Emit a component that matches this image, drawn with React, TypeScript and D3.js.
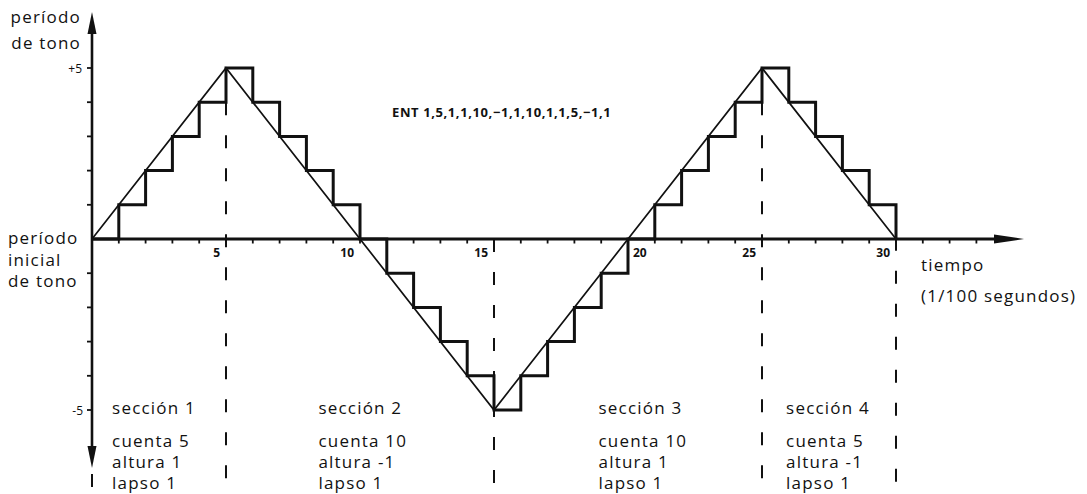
import React from "react";
import * as d3 from "d3";

// ---- data ----
const stepTimes = [0,1,2,3,4,5,6,7,8,9,10,11,12,13,14,15,16,17,18,19,20,21,22,23,24,25,26,27,28,29,30];
const stepValues = [0,1,2,3,4,5,4,3,2,1,0,-1,-2,-3,-4,-5,-4,-3,-2,-1,0,1,2,3,4,5,4,3,2,1,0];
const rampTimes = [0,5,15,25,30];
const rampValues = [0,5,-5,5,0];
const boundaryTimes = [5,15,25,30];
const boundaryStart = [4,0,4,1];
const xTickValues = [1,2,3,4,5,6,7,8,9,10,11,12,13,14,15,16,17,18,19,20,21,22,23,24,25,26,27,28,29,30,31,32,33];
const xTickLabels = [5,10,15,20,25,30];
const yTickValues = [-5,-4,-3,-2,-1,1,2,3,4,5];
const sectionNames = ["sección 1","sección 2","sección 3","sección 4"];
const sectionCounts = ["cuenta 5","cuenta 10","cuenta 10","cuenta 5"];
const sectionHeights = ["altura 1","altura -1","altura 1","altura -1"];
const sectionLapses = ["lapso 1","lapso 1","lapso 1","lapso 1"];
const sectionLeft = [0.75, 8.45, 18.9, 25.9];
const entText = "ENT 1,5,1,1,10,−1,1,10,1,1,5,−1,1";

const W = 1087, H = 494;
const FONT = "'Open Sans', 'DejaVu Sans', sans-serif";

export default function App() {
  const x = d3.scaleLinear().domain([0, 30]).range([92, 896]);
  const y = d3.scaleLinear().domain([-5, 5]).range([410, 68]);
  const x0 = x(0), y0 = y(0);

  const stepLine = d3.line<number>()
    .x((_, i) => x(stepTimes[i]))
    .y((d) => y(d))
    .curve(d3.curveStepAfter);
  const rampLine = d3.line<number>()
    .x((_, i) => x(rampTimes[i]))
    .y((d) => y(d));

  const textStyle: React.CSSProperties = { fontFamily: FONT, fontSize: 17, letterSpacing: 1.2, fill: "#111" };

  return (
    <svg width={W} height={H} style={{ position: "absolute", left: 0, top: 0, background: "#fff" }}>
      <rect width={W} height={H} fill="#fff" />
      {/* dashed section boundaries */}
      {boundaryTimes.map((t, i) => (
        <line key={"b" + i} x1={x(t)} x2={x(t)} y1={y(boundaryStart[i])} y2={H}
          stroke="#111" strokeWidth={2} strokeDasharray="13 20" />
      ))}
      <line x1={x0} x2={x0} y1={474} y2={H} stroke="#111" strokeWidth={2} strokeDasharray="13 20" />

      {/* axes */}
      <line x1={x0} x2={x0} y1={28} y2={452} stroke="#111" strokeWidth={2.6} />
      <path d={`M${x0},12 L${x0 - 4.5},34 L${x0 + 4.5},34 Z`} fill="#111" />
      <path d={`M${x0},468 L${x0 - 4.5},446 L${x0 + 4.5},446 Z`} fill="#111" />
      <line x1={x0} x2={1000} y1={y0} y2={y0} stroke="#111" strokeWidth={3} />
      <path d={`M1024,${y0} L994,${y0 - 4.5} L994,${y0 + 4.5} Z`} fill="#111" />
      {xTickValues.map((t) => (
        <line key={"xt" + t} x1={x(t)} x2={x(t)} y1={y0} y2={y0 + 4.5} stroke="#111" strokeWidth={1.8} />
      ))}
      {yTickValues.map((v) => (
        <line key={"yt" + v} x1={x0 - 5} x2={x0} y1={y(v)} y2={y(v)} stroke="#111" strokeWidth={1.8} />
      ))}

      {/* ramp and staircase */}
      <path d={rampLine(rampValues) || ""} fill="none" stroke="#111" strokeWidth={1.7} />
      <path d={stepLine(stepValues) || ""} fill="none" stroke="#111" strokeWidth={3} strokeLinejoin="miter" />

      {/* tick labels */}
      {xTickLabels.map((t) => (
        <text key={"xl" + t} x={t === 20 ? x(t) + 5 : x(t) - 6} y={y0 + 18}
          textAnchor={t === 20 ? "start" : "end"}
          style={{ fontFamily: FONT, fontSize: 12, fontWeight: 700, fill: "#111" }}>{t}</text>
      ))}
      <text x={x0 - 10} y={y(5) + 5} textAnchor="end" style={{ fontFamily: FONT, fontSize: 12, fill: "#111" }}>+5</text>
      <text x={x0 - 9} y={y(-5) + 5} textAnchor="end" style={{ fontFamily: FONT, fontSize: 12, fill: "#111" }}>-5</text>

      {/* axis titles */}
      <text x={81} y={23} textAnchor="end" style={textStyle}>período</text>
      <text x={81} y={49} textAnchor="end" style={textStyle}>de tono</text>
      <text x={8} y={y0 + 5} style={textStyle}>período</text>
      <text x={8} y={y0 + 27} style={textStyle}>inicial</text>
      <text x={8} y={y0 + 48} style={textStyle}>de tono</text>
      <text x={921} y={271} style={textStyle}>tiempo</text>
      <text x={921} y={302} style={textStyle}>(1/100 segundos)</text>

      <text x={392} y={117} style={{ fontFamily: FONT, fontSize: 13, letterSpacing: 0.6, fontWeight: 700, fill: "#111" }}>{entText}</text>

      {/* section annotations */}
      {sectionNames.map((s, i) => (
        <g key={"s" + i}>
          <text x={x(sectionLeft[i])} y={414} style={textStyle}>{s}</text>
          <text x={x(sectionLeft[i])} y={447} style={textStyle}>{sectionCounts[i]}</text>
          <text x={x(sectionLeft[i])} y={468} style={textStyle}>{sectionHeights[i]}</text>
          <text x={x(sectionLeft[i])} y={489} style={textStyle}>{sectionLapses[i]}</text>
        </g>
      ))}
    </svg>
  );
}
